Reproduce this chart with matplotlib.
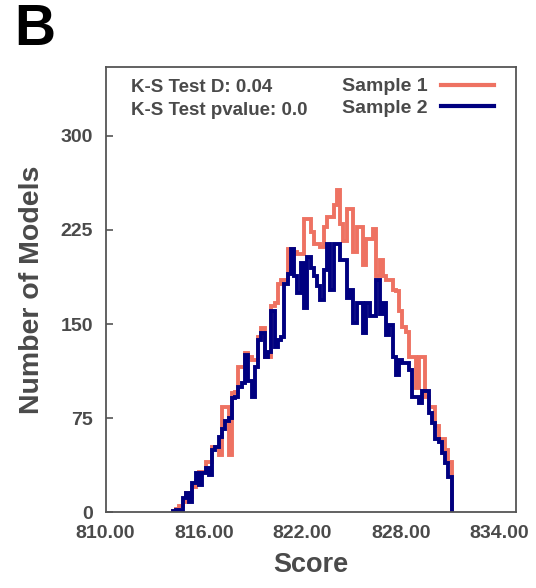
import numpy as np
import matplotlib
matplotlib.use("Agg")
import matplotlib.pyplot as plt

plt.rcParams['font.family'] = ['Liberation Sans', 'DejaVu Sans']
plt.rcParams['font.weight'] = 'bold'
plt.rcParams['axes.labelweight'] = 'bold'

# histogram bins (score), width 0.2
bin_start = 814.1
bin_width = 0.2

sample1 = [1, 3, 5, 8, 15, 12, 20, 25, 32, 32,
           40, 40, 52, 52, 46, 84, 84, 46, 95, 96,
           116, 116, 127, 124, 121, 121, 140, 147, 124, 124,
           164, 167, 182, 185, 185, 210, 210, 207, 206, 206,
           234, 234, 223, 214, 214, 211, 227, 235, 235, 245,
           257, 230, 216, 242, 242, 207, 227, 227, 197, 218,
           218, 226, 188, 201, 188, 185, 185, 177, 176, 160,
           148, 144, 124, 124, 99, 124, 124, 92, 84, 84,
           69, 58, 58, 50, 40]

sample2 = [1, 2, 1, 11, 15, 8, 23, 31, 22, 31,
           35, 30, 50, 52, 60, 66, 73, 75, 91, 92,
           100, 103, 125, 105, 92, 116, 137, 143, 124, 128,
           160, 132, 137, 140, 182, 190, 210, 188, 175, 199,
           163, 203, 195, 188, 180, 169, 193, 214, 177, 214,
           214, 201, 201, 171, 177, 151, 167, 167, 143, 167,
           156, 156, 185, 158, 167, 141, 149, 124, 109, 121,
           119, 119, 113, 92, 92, 87, 97, 97, 79, 71,
           58, 56, 47, 39, 28]

ks_d = 0.04
ks_p = 0.0

edges = bin_start + bin_width * np.arange(len(sample1) + 1)

txt = '#4a4a4a'
salmon = '#ee7262'
navy = '#000080'

fig = plt.figure(figsize=(5.36, 5.88), dpi=100)
ax = fig.add_axes([105.5/536, 1-512.3/588, 410.2/536, 445.6/588])

ax.stairs(sample1, edges, baseline=0, color=salmon, lw=2.8, label='Sample 1')
ax.stairs(sample2, edges, baseline=0, color=navy, lw=2.8, label='Sample 2')

ax.set_xlim(810, 835)
ax.set_ylim(0, 355)
ax.set_xticks([810, 816, 822, 828, 834])
ax.set_xticklabels([f'{v:.2f}' for v in [810, 816, 822, 828, 834]])
ax.set_yticks([0, 75, 150, 225, 300])

for s in ax.spines.values():
    s.set_color('#555555')
    s.set_linewidth(1.3)
ax.tick_params(axis='y', direction='in', length=5, width=1.2, color='#555555',
               labelsize=14, labelcolor=txt, pad=9)
ax.tick_params(axis='x', length=0, labelsize=14, labelcolor=txt, pad=9)

ax.set_xlabel('Score', fontsize=19.5, color=txt, labelpad=7)
ax.set_ylabel('Number of Models', fontsize=20.5, color=txt, labelpad=11)

ax.text(0.062, 0.953, f'K-S Test D: {ks_d}', transform=ax.transAxes,
        fontsize=13.5, color=txt, va='center')
ax.text(0.062, 0.901, f'K-S Test pvalue: {ks_p}', transform=ax.transAxes,
        fontsize=13.5, color=txt, va='center')

leg = ax.legend(loc='upper right', bbox_to_anchor=(0.947, 0.975), frameon=False,
                markerfirst=False, fontsize=14, handlelength=2.7, borderpad=0,
                borderaxespad=0, handletextpad=0.7, labelspacing=0.2)
for t in leg.get_texts():
    t.set_color(txt)
for h in leg.get_lines():
    h.set_linewidth(3)

fig.text(14/536, 1-3/588, 'B', fontsize=41, fontweight='bold', va='top', ha='left')

fig.savefig('out.png', dpi=100)
